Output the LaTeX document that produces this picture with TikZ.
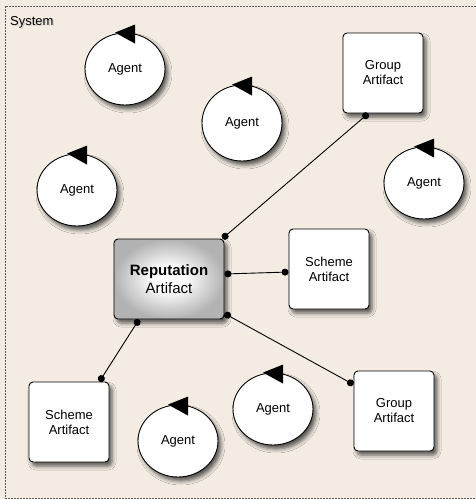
\documentclass[tikz,border=0pt]{standalone}
\usepackage{fontspec}
\setmainfont{Liberation Sans}
\usetikzlibrary{shapes.geometric,shadows.blur,arrows.meta}
\definecolor{paper}{RGB}{244,236,227}
\definecolor{edge}{RGB}{90,90,90}
\pgfdeclareradialshading{repshade}{\pgfpoint{0bp}{0bp}}{%
  color(0bp)=(white); color(7bp)=(white); color(25bp)=(black!30); color(50bp)=(black!30)}
\begin{document}
\begin{tikzpicture}[x=1pt,y=-1pt,
  shade/.style={blur shadow={shadow xshift=3pt,shadow yshift=-4pt,shadow blur radius=4pt,shadow opacity=65}},
  agent/.style={ellipse,draw=black,line width=0.9pt,fill=white,shade,
    minimum width=80pt,minimum height=72pt,inner sep=0pt,
    font=\fontsize{13}{15}\selectfont},
  artifact/.style={rectangle,rounded corners=4pt,draw=black,line width=0.9pt,fill=white,shade,
    minimum width=80pt,minimum height=80pt,inner sep=0pt,align=center,
    font=\fontsize{13}{15}\selectfont},
  reputation/.style={artifact,minimum width=110pt,shading=repshade,
    font=\fontsize{15}{18}\selectfont},
  link/.style={draw=black,line width=0.9pt,{Circle[length=7pt,width=7pt]}-{Circle[length=7pt,width=7pt]}},
  turn/.style={fill=black}
]
\useasboundingbox (0,0) rectangle (476,499);
\fill[paper] (0,0) rectangle (476,499);

% system boundary
\draw[edge,line width=1pt,dash pattern=on 1.5pt off 1.5pt] (5,6) rectangle (482,498);
\node[anchor=base west,inner sep=0pt,text=black!40,opacity=0.3,font=\fontsize{13}{15}\selectfont] at (11.5,26.5) {System};
\node (sys) [anchor=base west,inner sep=0pt,font=\fontsize{13}{15}\selectfont] at (10,25) {System};

% agents
\node (a1) [agent] at (125,69) {Agent};
\node (a2) [agent,minimum height=76pt] at (242,123) {Agent};
\node (a3) [agent] at (77,190) {Agent};
\node (a4) [agent] at (424,183) {Agent};
\node (a5) [agent] at (178,441) {Agent};
\node (a6) [agent] at (273,409) {Agent};

% rotation marks on the agents
\foreach \a in {a1,a2,a3,a4,a5,a6}{
  \fill[turn] ([xshift=-10pt]\a.north) -- ([shift={(10,-8)}]\a.north) -- ([shift={(10,11)}]\a.north) -- cycle;
}

% artifacts
\node (rep) [reputation] at (169,279) {\textbf{Reputation}\\Artifact};
\node (g1) [artifact] at (383,73) {Group\\Artifact};
\node (s1) [artifact] at (329,269) {Scheme\\Artifact};
\node (g2) [artifact] at (394,411) {Group\\Artifact};
\node (s2) [artifact] at (69,422) {Scheme\\Artifact};

% links between the reputation artifact and the others
\draw[link] ([shift={(-2,0)}]rep.north east) -- (g1.-110);
\draw[link] ([yshift=5pt]rep.east) -- ([yshift=-3pt]s1.west);
\draw[link] ([yshift=6pt]rep.south east) -- ([yshift=-14pt]g2.north west);
\draw[link] ([xshift=-30pt]rep.south) -- ([xshift=-10pt]s2.north east);
\end{tikzpicture}
\end{document}
